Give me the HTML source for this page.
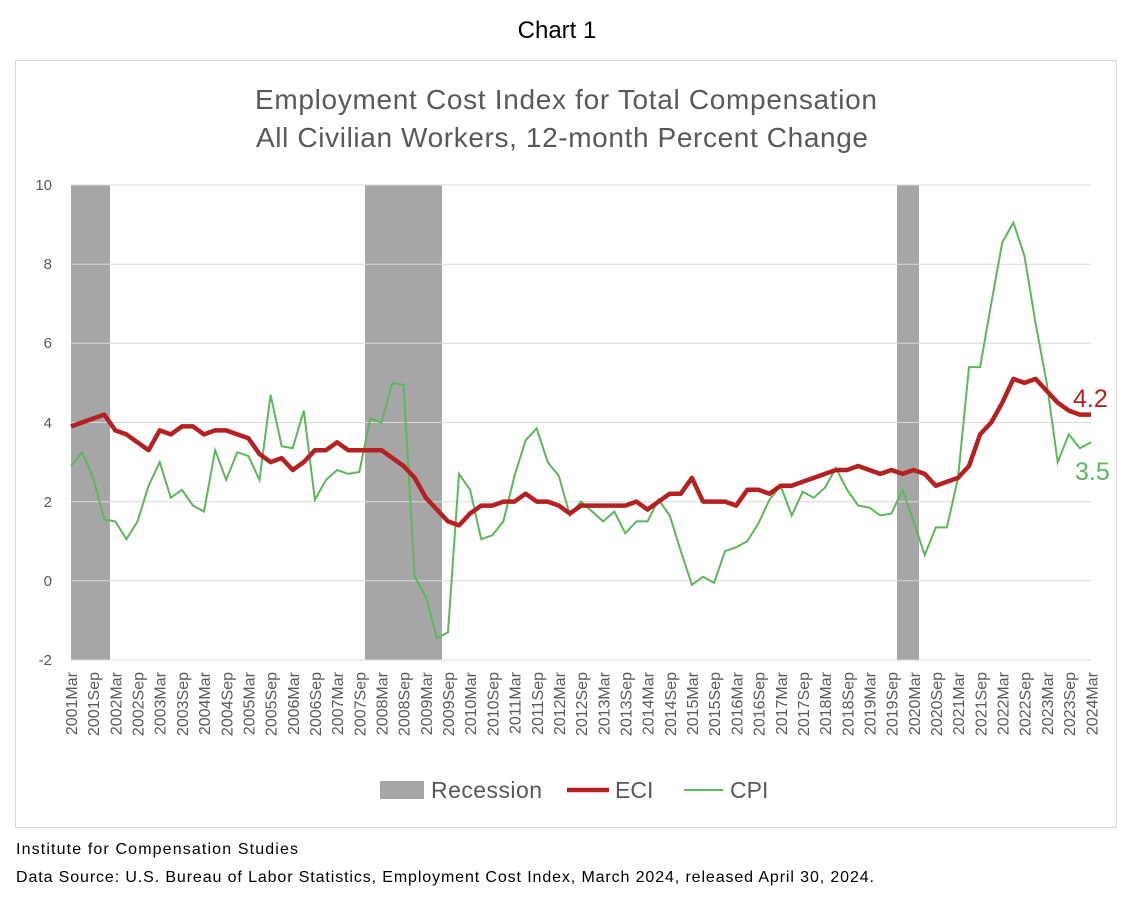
<!DOCTYPE html>
<html><head><meta charset="utf-8"><style>
body{margin:0;background:#fff;width:1142px;height:908px;overflow:hidden;font-family:"Liberation Sans",sans-serif}
</style></head><body>
<svg width="1142" height="908" xmlns="http://www.w3.org/2000/svg" font-family="Liberation Sans, sans-serif">
<text x="557" y="38" font-size="24" text-anchor="middle" fill="#000">Chart 1</text>
<rect x="15.5" y="60.5" width="1101" height="767" fill="none" stroke="#d9d9d9"/>
<text x="566" y="109" font-size="28" text-anchor="middle" fill="#595959" textLength="622">Employment Cost Index for Total Compensation</text>
<text x="562" y="147" font-size="28" text-anchor="middle" fill="#595959" textLength="612">All Civilian Workers, 12-month Percent Change</text>
<g fill="#a6a6a6"><rect x="71" y="185" width="39" height="475"/><rect x="365" y="185" width="77" height="475"/><rect x="897" y="185" width="22" height="475"/></g>
<g stroke="#d9d9d9" stroke-width="1">
<line x1="71" x2="1091" y1="185" y2="185"/><line x1="71" x2="1091" y1="264.2" y2="264.2"/><line x1="71" x2="1091" y1="343.3" y2="343.3"/><line x1="71" x2="1091" y1="422.5" y2="422.5"/><line x1="71" x2="1091" y1="501.7" y2="501.7"/><line x1="71" x2="1091" y1="580.8" y2="580.8"/><line x1="71" x2="1091" y1="660" y2="660"/></g>
<g font-size="15" fill="#595959" text-anchor="end">
<text x="52" y="190">10</text><text x="52" y="269">8</text><text x="52" y="348">6</text><text x="52" y="428">4</text><text x="52" y="507">2</text><text x="52" y="586">0</text><text x="52" y="665">-2</text></g>
<polyline id="cpi" fill="none" stroke="#5cb85c" stroke-width="2" points=""/>
<polyline id="eci" fill="none" stroke="#b52020" stroke-width="4.5" stroke-linejoin="round" points=""/>
<g font-size="16" fill="#595959" text-anchor="end" id="xl">
<text transform="translate(77,672) rotate(-90)">2001Mar</text>
<text transform="translate(99.2,672) rotate(-90)">2001Sep</text>
<text transform="translate(121.4,672) rotate(-90)">2002Mar</text>
<text transform="translate(143.5,672) rotate(-90)">2002Sep</text>
<text transform="translate(165.7,672) rotate(-90)">2003Mar</text>
<text transform="translate(187.9,672) rotate(-90)">2003Sep</text>
<text transform="translate(210.1,672) rotate(-90)">2004Mar</text>
<text transform="translate(232.3,672) rotate(-90)">2004Sep</text>
<text transform="translate(254.4,672) rotate(-90)">2005Mar</text>
<text transform="translate(276.6,672) rotate(-90)">2005Sep</text>
<text transform="translate(298.8,672) rotate(-90)">2006Mar</text>
<text transform="translate(321,672) rotate(-90)">2006Sep</text>
<text transform="translate(343.2,672) rotate(-90)">2007Mar</text>
<text transform="translate(365.3,672) rotate(-90)">2007Sep</text>
<text transform="translate(387.5,672) rotate(-90)">2008Mar</text>
<text transform="translate(409.7,672) rotate(-90)">2008Sep</text>
<text transform="translate(431.9,672) rotate(-90)">2009Mar</text>
<text transform="translate(454.1,672) rotate(-90)">2009Sep</text>
<text transform="translate(476.2,672) rotate(-90)">2010Mar</text>
<text transform="translate(498.4,672) rotate(-90)">2010Sep</text>
<text transform="translate(520.6,672) rotate(-90)">2011Mar</text>
<text transform="translate(542.8,672) rotate(-90)">2011Sep</text>
<text transform="translate(565,672) rotate(-90)">2012Mar</text>
<text transform="translate(587.1,672) rotate(-90)">2012Sep</text>
<text transform="translate(609.3,672) rotate(-90)">2013Mar</text>
<text transform="translate(631.5,672) rotate(-90)">2013Sep</text>
<text transform="translate(653.7,672) rotate(-90)">2014Mar</text>
<text transform="translate(675.9,672) rotate(-90)">2014Sep</text>
<text transform="translate(698,672) rotate(-90)">2015Mar</text>
<text transform="translate(720.2,672) rotate(-90)">2015Sep</text>
<text transform="translate(742.4,672) rotate(-90)">2016Mar</text>
<text transform="translate(764.6,672) rotate(-90)">2016Sep</text>
<text transform="translate(786.8,672) rotate(-90)">2017Mar</text>
<text transform="translate(808.9,672) rotate(-90)">2017Sep</text>
<text transform="translate(831.1,672) rotate(-90)">2018Mar</text>
<text transform="translate(853.3,672) rotate(-90)">2018Sep</text>
<text transform="translate(875.5,672) rotate(-90)">2019Mar</text>
<text transform="translate(897.7,672) rotate(-90)">2019Sep</text>
<text transform="translate(919.8,672) rotate(-90)">2020Mar</text>
<text transform="translate(942,672) rotate(-90)">2020Sep</text>
<text transform="translate(964.2,672) rotate(-90)">2021Mar</text>
<text transform="translate(986.4,672) rotate(-90)">2021Sep</text>
<text transform="translate(1008.6,672) rotate(-90)">2022Mar</text>
<text transform="translate(1030.7,672) rotate(-90)">2022Sep</text>
<text transform="translate(1052.9,672) rotate(-90)">2023Mar</text>
<text transform="translate(1075.1,672) rotate(-90)">2023Sep</text>
<text transform="translate(1097.3,672) rotate(-90)">2024Mar</text>
</g>
<text x="1073" y="407" font-size="25" fill="#b52020">4.2</text>
<text x="1075" y="480" font-size="25" fill="#5cb85c">3.5</text>
<rect x="380" y="781" width="44" height="18" fill="#a6a6a6"/>
<text x="431" y="798" font-size="23" fill="#595959" textLength="111">Recession</text>
<line x1="567" x2="609" y1="790" y2="790" stroke="#b52020" stroke-width="4.5"/>
<text x="615" y="798" font-size="23" fill="#595959">ECI</text>
<line x1="684" x2="723" y1="790" y2="790" stroke="#5cb85c" stroke-width="2"/>
<text x="730" y="798" font-size="23" fill="#595959">CPI</text>
<text x="16" y="854" font-size="16" fill="#000" textLength="282">Institute for Compensation Studies</text>
<text x="16" y="882" font-size="16" fill="#000" textLength="858">Data Source: U.S. Bureau of Labor Statistics, Employment Cost Index, March 2024, released April 30, 2024.</text>
</svg>
<script>
var eci=[3.9,4.0,4.1,4.2,3.8,3.7,3.5,3.3,3.8,3.7,3.9,3.9,3.7,3.8,3.8,3.7,3.6,3.2,3.0,3.1,2.8,3.0,3.3,3.3,3.5,3.3,3.3,3.3,3.3,3.1,2.9,2.6,2.1,1.8,1.5,1.4,1.7,1.9,1.9,2.0,2.0,2.2,2.0,2.0,1.9,1.7,1.9,1.9,1.9,1.9,1.9,2.0,1.8,2.0,2.2,2.2,2.6,2.0,2.0,2.0,1.9,2.3,2.3,2.2,2.4,2.4,2.5,2.6,2.7,2.8,2.8,2.9,2.8,2.7,2.8,2.7,2.8,2.7,2.4,2.5,2.6,2.9,3.7,4.0,4.5,5.1,5.0,5.1,4.8,4.5,4.3,4.2,4.2];
var cpi=[2.9,3.25,2.6,1.55,1.5,1.05,1.5,2.4,3.0,2.1,2.3,1.9,1.75,3.3,2.55,3.25,3.15,2.55,4.7,3.4,3.35,4.3,2.05,2.55,2.8,2.7,2.75,4.1,4.0,5.0,4.95,0.1,-0.4,-1.45,-1.3,2.7,2.3,1.05,1.15,1.5,2.65,3.55,3.85,3.0,2.65,1.65,2.0,1.75,1.5,1.75,1.2,1.5,1.5,2.05,1.65,0.75,-0.1,0.1,-0.05,0.75,0.85,1.0,1.45,2.05,2.4,1.65,2.25,2.1,2.35,2.85,2.3,1.9,1.85,1.65,1.7,2.3,1.5,0.65,1.35,1.35,2.6,5.4,5.4,7.0,8.55,9.05,8.2,6.5,5.0,3.0,3.7,3.35,3.5];
function pts(a){return a.map(function(v,i){return (71+i*1020/92).toFixed(1)+','+(580.8-v*39.58).toFixed(1)}).join(' ')}
document.getElementById('eci').setAttribute('points',pts(eci));
document.getElementById('cpi').setAttribute('points',pts(cpi));
</script>
</body></html>
